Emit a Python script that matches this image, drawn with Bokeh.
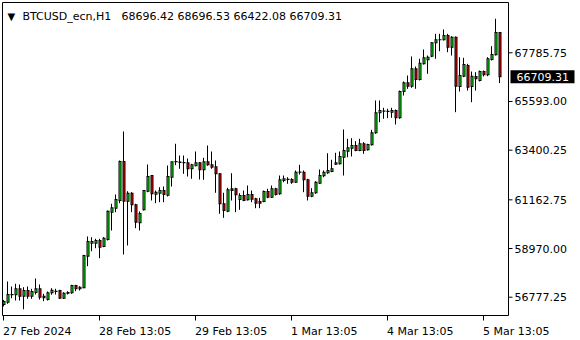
from bokeh.plotting import figure
from bokeh.models import Range1d, Label, ColumnDataSource, BoxAnnotation
from bokeh.embed import file_html
from bokeh.resources import INLINE

# ---- data (BTCUSD_ecn, H1) ----
open_ = [56449, 56552, 56886, 56886, 57156, 56823, 57079, 56823, 56989, 57156,
         56823, 56674, 56976, 57034, 57079, 56733, 56958, 56976, 57305, 57156,
         57201, 58624, 59210, 59210, 59331, 59061, 59376, 60606, 60786, 61133,
         62890, 61101, 61462, 60939, 60129, 60714, 61552, 62259, 61417, 61462,
         61583, 61372, 62182, 62876, 62867, 62845, 62831, 62561, 62696, 62831,
         62516, 62876, 62741, 62651, 62336, 60984, 60651, 61660, 61660, 61178,
         61358, 61165, 61403, 61210, 61088, 61088, 61538, 61282, 61660, 61435,
         62034, 62079, 62079, 61957, 62408, 62408, 62065, 61327, 61480, 61912,
         62245, 62381, 62439, 62768, 62786, 63083, 63354, 63489, 63610, 63385,
         63687, 63417, 63642, 64182, 65083, 65155, 65142, 65110, 65187, 64858,
         66042, 66434, 66281, 67065, 66583, 67290, 67470, 67632, 68236, 68371,
         68371, 68565, 68038, 68488, 66268, 66732, 67213, 66268, 66718, 66538,
         66943, 66795, 67484, 67695, 68696.42]
high = [56652, 57485, 57260, 57381, 57350, 57228, 57260, 57156, 57620, 57350,
        56931, 57034, 57183, 57156, 57111, 57003, 57048, 57336, 57336, 57273,
        58687, 59512, 59480, 59408, 59408, 59480, 60683, 60984, 61403, 62935,
        64241, 61552, 61507, 60984, 60638, 61583, 62754, 62270, 61583, 61732,
        61764, 62709, 62876, 63687, 63160, 63160, 63025, 62786, 63340, 62858,
        63056, 63610, 63340, 62935, 62363, 61480, 61705, 62363, 61705, 61462,
        61583, 61809, 61583, 61255, 61255, 61583, 61660, 61809, 61705, 62259,
        62259, 62182, 62137, 62484, 62741, 62484, 62110, 61687, 62002, 62529,
        62484, 63263, 62966, 63281, 63340, 64331, 63912, 63939, 63804, 63912,
        63759, 63687, 64317, 65637, 65637, 65308, 65263, 65308, 65232, 66087,
        66493, 66763, 67619, 67168, 67515, 67934, 67664, 68263, 68641, 68641,
        68835, 68641, 68533, 68520, 67587, 67560, 67290, 66943, 66912, 66988,
        66988, 67587, 68083, 69317, 68696.53]
low = [56359, 56480, 56733, 56629, 56629, 56237, 56706, 56706, 56899, 56674,
       56598, 56629, 56886, 56899, 56706, 56706, 56899, 56931, 57048, 57079,
       57183, 58174, 58850, 58985, 58534, 59030, 59331, 59782, 60606, 61011,
       58701, 59106, 60606, 59885, 59782, 60683, 61507, 61133, 61011, 61056,
       61056, 61313, 61764, 62723, 62561, 62336, 62214, 62110, 62678, 62079,
       62065, 62696, 62561, 61480, 60534, 60354, 60606, 61133, 60606, 60714,
       61101, 61133, 61056, 60786, 60786, 61056, 61237, 61255, 61358, 61390,
       61957, 61885, 61885, 61930, 62304, 61507, 61133, 61282, 61435, 61885,
       62182, 62336, 62408, 62741, 62754, 62259, 63083, 63115, 63354, 63354,
       63236, 63385, 63610, 64137, 64660, 64813, 64840, 64858, 64556, 64813,
       65862, 66164, 66209, 66164, 66538, 67258, 66840, 67587, 67515, 67858,
       68339, 67812, 67664, 65110, 66042, 66687, 66087, 65560, 66087, 66493,
       66718, 66732, 67439, 67664, 66422.08]
close = [56584, 56899, 56899, 57156, 56823, 57079, 56823, 57034, 57156, 56778,
         56751, 56976, 57093, 57048, 56733, 56958, 56989, 57305, 57156, 57228,
         58656, 59286, 59286, 59331, 59030, 59435, 60651, 60804, 61178, 62890,
         61101, 61462, 60939, 60156, 60548, 61583, 62214, 61435, 61507, 61583,
         61403, 62214, 62876, 62890, 62849, 62831, 62561, 62741, 62831, 62516,
         62876, 62741, 62633, 62336, 60984, 60683, 61615, 61583, 61390, 61358,
         61133, 61403, 61192, 61011, 61011, 61538, 61282, 61660, 61403, 62065,
         62110, 62085, 61957, 62408, 62417, 62065, 61327, 61480, 61957, 62259,
         62408, 62484, 62561, 62831, 63115, 63385, 63507, 63610, 63385, 63687,
         63385, 63655, 64182, 65083, 65187, 65164, 65148, 65187, 64858, 66042,
         66434, 66281, 67065, 66583, 67317, 67560, 67587, 68236, 68371, 68376,
         68565, 68038, 68488, 66281, 66763, 67258, 66236, 66732, 66614, 66943,
         66795, 67515, 67709, 68696, 66709.31]

price_ticks = [56777.25, 58970.00, 61162.75, 63400.25, 65593.00, 67785.75]
time_tick_bars = [0, 24, 48, 72, 96, 120]
time_tick_labels = ["27 Feb 2024", "28 Feb 13:05", "29 Feb 13:05", "1 Mar 13:05", "4 Mar 13:05", "5 Mar 13:05"]
symbol = "BTCUSD_ecn,H1"
last_price = close[-1]

# ---- layout constants (screen pixels) ----
W, H = 580, 340
PX_PER_BAR = 4.0
FIRST_BAR_PX = 3.5
PRICE_AT_TOP = 70141.0
PRICE_PER_PX = 45.04
BOX_L, BOX_R, BOX_T, BOX_B = 2.0, 508.0, 2.0, 315.0
LINE_SHIFT = 0.5             # pixel shift that keeps 1-px lines crisp


def bx(sx):
    """screen x -> bar coordinate"""
    return (sx - FIRST_BAR_PX) / PX_PER_BAR


def py(sy):
    """screen y (from top) -> price"""
    return PRICE_AT_TOP - PRICE_PER_PX * sy


PX = 1 / PX_PER_BAR          # one pixel, in bar units
bars = list(range(len(open_)))
half_px = 0.5 * PRICE_PER_PX
body_top = [max(a, b) for a, b in zip(open_, close)]
body_bot = [min(a, b) for a, b in zip(open_, close)]
inner_top, inner_bot = [], []
for t, b in zip(body_top, body_bot):
    it, ib = t - half_px, b + half_px
    if it <= ib:
        it = ib = (t + b) / 2
    inner_top.append(it)
    inner_bot.append(ib)

src = ColumnDataSource(dict(
    x=bars, wx=[k - LINE_SHIFT * PX for k in bars], h=high, l=low,
    otop=[t + half_px for t in body_top], obot=[b - half_px for b in body_bot],
    itop=inner_top, ibot=inner_bot,
    color=["#00ff00" if c >= o else "#ff0000" for o, c in zip(open_, close)],
))

FONT = "DejaVu Sans"
FS = "11px"

p = figure(width=W, height=H, output_backend="svg", toolbar_location=None,
           x_range=Range1d(bx(0), bx(W)), y_range=Range1d(py(H), py(0)),
           x_axis_location=None, y_axis_location=None,
           min_border=0, min_border_left=0, min_border_right=0,
           min_border_top=0, min_border_bottom=0)
p.outline_line_color = None
p.background_fill_color = "white"
p.border_fill_color = "white"
p.grid.visible = False

# chart frame
p.add_layout(BoxAnnotation(left=bx(BOX_L), right=bx(BOX_R), top=py(BOX_T), bottom=py(BOX_B),
                           fill_color=None, fill_alpha=0,
                           line_color="black", line_alpha=1.0, line_width=1))

# candles: wick (1 px line), black body (3 px), coloured inside of the body (1 px)
p.segment(x0="wx", y0="l", x1="wx", y1="h", source=src, line_color="black", line_width=1)
p.vbar(x="x", width=3 * PX, top="otop", bottom="obot", source=src,
       fill_color="black", line_color=None)
p.vbar(x="x", width=PX, top="itop", bottom="ibot", source=src,
       fill_color="color", line_color=None)

# price scale (right)
ptick_src = ColumnDataSource(dict(
    x0=[bx(BOX_R)] * len(price_ticks), x1=[bx(BOX_R + 4)] * len(price_ticks),
    y=price_ticks))
p.segment(x0="x0", y0="y", x1="x1", y1="y", source=ptick_src,
          line_color="black", line_width=1)
for t in price_ticks:
    p.add_layout(Label(x=514, y=t, x_units="screen", y_units="data", text=f"{t:.2f}",
                       text_align="left", text_baseline="middle",
                       text_font=FONT, text_font_size=FS, text_color="black"))

# time scale (bottom)
ttick_src = ColumnDataSource(dict(
    x=[b - LINE_SHIFT * PX for b in time_tick_bars], y0=[py(BOX_B)] * len(time_tick_bars),
    y1=[py(BOX_B + 5)] * len(time_tick_bars)))
p.segment(x0="x", y0="y0", x1="x", y1="y1", source=ttick_src,
          line_color="black", line_width=1)
for b, t in zip(time_tick_bars, time_tick_labels):
    p.add_layout(Label(x=b, y=H - 331, x_units="data", y_units="screen", text=t,
                       text_align="left", text_baseline="alphabetic", x_offset=-1,
                       text_font=FONT, text_font_size=FS, text_color="black"))

# header
p.add_layout(Label(x=7, y=H - 16, x_units="screen", y_units="screen", text="\u25bc",
                   text_align="left", text_baseline="alphabetic",
                   text_font=FONT, text_font_size="10px", text_color="black"))
p.add_layout(Label(x=22, y=H - 16, x_units="screen", y_units="screen", text=symbol,
                   text_align="left", text_baseline="alphabetic",
                   text_font=FONT, text_font_size=FS, text_color="black"))
p.add_layout(Label(x=121, y=H - 16, x_units="screen", y_units="screen",
                   text=f"{open_[-1]:.2f} {high[-1]:.2f} {low[-1]:.2f} {close[-1]:.2f}",
                   text_align="left", text_baseline="alphabetic",
                   text_font=FONT, text_font_size=FS, text_color="black"))

# current price marker
half_h = 6.5 * PRICE_PER_PX
p.add_layout(BoxAnnotation(left=510, right=574, left_units="screen", right_units="screen",
                           top=last_price + half_h, bottom=last_price - half_h,
                           fill_color="black", fill_alpha=1.0, line_color=None))
p.add_layout(Label(x=516, y=last_price, x_units="screen", y_units="data", text=f"{last_price:.2f}",
                   text_align="left", text_baseline="middle",
                   text_font=FONT, text_font_size=FS, text_color="white"))

open("out.html", "w").write(file_html(p, INLINE))
